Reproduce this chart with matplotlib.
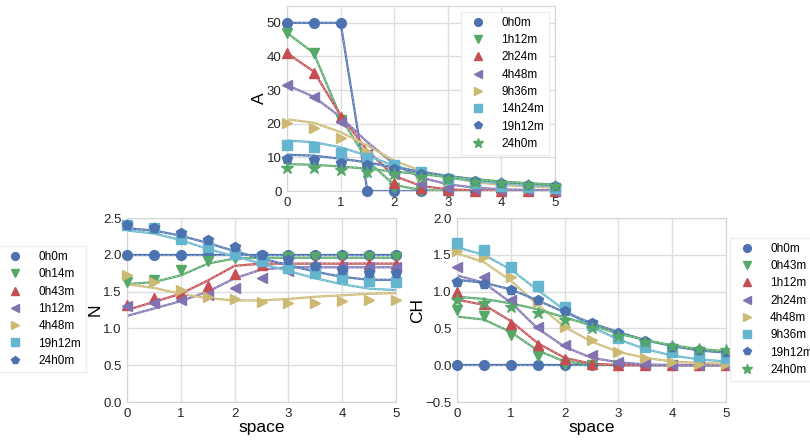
import matplotlib
matplotlib.use("Agg")
import matplotlib.pyplot as plt

plt.rcParams['font.family'] = ['Liberation Sans', 'DejaVu Sans']

space = [0, 0.5, 1, 1.5, 2, 2.5, 3, 3.5, 4, 4.5, 5]

colors = ["#4C72B0", "#55A868", "#C44E52", "#8172B2", "#CCB974", "#64B5CD",
          "#4C72B0", "#55A868"]
markers = ["o", "v", "^", "<", ">", "s", "p", "*"]

# --- A ---
a_labels = ["0h0m", "1h12m", "2h24m", "4h48m", "9h36m", "14h24m", "19h12m", "24h0m"]
a_data = [
    [50, 50, 50, 0, 0, 0, 0, 0, 0, 0, 0],
    [46.9, 41, 21, 5.7, 0.8, 0.1, 0, 0, 0, 0, 0],
    [41, 35, 22, 11, 2.3, 0.8, 0.2, 0.1, 0, 0, 0],
    [31.5, 28, 20.5, 11, 5, 2, 1, 0.5, 0.3, 0.2, 0.1],
    [20.1, 18.7, 15.8, 11.7, 7, 5, 3, 2, 1.5, 1, 1],
    [13.7, 13.2, 11.4, 9.7, 7.7, 5.5, 3.5, 2.5, 1.5, 1.2, 0.8],
    [9.4, 9.2, 8.4, 7.7, 6.5, 5, 4, 3, 2.3, 1.8, 1.5],
    [6.9, 6.7, 6.3, 5.6, 5, 4.2, 3.5, 2.8, 2.3, 1.9, 1.6],
]
a_model = [
    [50, 50, 50, 0, 0, 0, 0, 0, 0, 0, 0],
    [47, 41, 22, 9, 1.8, 0.3, 0, 0, 0, 0, 0],
    [41, 35.5, 22.5, 12, 4.5, 1.5, 0.5, 0.2, 0.1, 0, 0],
    [31.5, 28, 22, 14.5, 8, 4, 2, 1, 0.5, 0.3, 0.2],
    [21.3, 20.3, 17.5, 13.5, 9, 6, 4, 2.7, 1.8, 1.3, 1],
    [15, 14.5, 13, 10.5, 7.5, 5.5, 4, 3, 2.3, 1.8, 1.5],
    [10.8, 10.5, 9.6, 8.5, 7, 5.7, 4.5, 3.5, 2.7, 2.2, 1.8],
    [8, 7.8, 7.3, 6.6, 5.8, 5, 4.2, 3.5, 2.8, 2.3, 1.9],
]

# --- N ---
n_labels = ["0h0m", "0h14m", "0h43m", "1h12m", "4h48m", "19h12m", "24h0m"]
n_styles = [0, 1, 2, 3, 4, 5, 6]
n_data = [
    [2, 2, 2, 2, 2, 2, 2, 2, 2, 2, 2],
    [1.63, 1.66, 1.79, 1.91, 1.95, 1.97, 1.97, 1.97, 1.97, 1.97, 1.97],
    [1.32, 1.41, 1.48, 1.58, 1.74, 1.86, 1.88, 1.88, 1.88, 1.88, 1.88],
    [1.30, 1.34, 1.39, 1.45, 1.55, 1.68, 1.78, 1.83, 1.83, 1.83, 1.83],
    [1.73, 1.63, 1.52, 1.42, 1.40, 1.36, 1.35, 1.35, 1.37, 1.38, 1.39],
    [2.40, 2.36, 2.22, 2.11, 2.01, 1.91, 1.82, 1.75, 1.68, 1.65, 1.63],
    [2.40, 2.37, 2.29, 2.20, 2.11, 2.00, 1.93, 1.85, 1.79, 1.75, 1.75],
]
n_model = [
    [2, 2, 2, 2, 2, 2, 2, 2, 2, 2, 2],
    [1.6, 1.63, 1.72, 1.88, 1.95, 1.96, 1.96, 1.96, 1.96, 1.96, 1.96],
    [1.25, 1.36, 1.47, 1.65, 1.85, 1.88, 1.88, 1.88, 1.88, 1.88, 1.88],
    [1.17, 1.27, 1.37, 1.5, 1.68, 1.8, 1.83, 1.83, 1.83, 1.83, 1.83],
    [1.60, 1.55, 1.47, 1.41, 1.38, 1.38, 1.40, 1.43, 1.45, 1.47, 1.48],
    [2.33, 2.29, 2.20, 2.08, 1.98, 1.88, 1.78, 1.68, 1.60, 1.54, 1.52],
    [2.36, 2.33, 2.26, 2.16, 2.05, 1.95, 1.86, 1.77, 1.70, 1.66, 1.66],
]

# --- CH ---
ch_labels = ["0h0m", "0h43m", "1h12m", "2h24m", "4h48m", "9h36m", "19h12m", "24h0m"]
ch_data = [
    [0, 0, 0, 0, 0, 0, 0, 0, 0, 0, 0],
    [0.75, 0.67, 0.41, 0.12, 0.01, 0, 0, 0, 0, 0, 0],
    [0.99, 0.83, 0.56, 0.27, 0.09, 0.01, 0, 0, 0, 0, 0],
    [1.33, 1.20, 0.89, 0.52, 0.27, 0.14, 0.05, 0.02, 0, 0, 0],
    [1.55, 1.47, 1.20, 0.86, 0.52, 0.34, 0.18, 0.10, 0.05, 0.02, 0.01],
    [1.66, 1.56, 1.34, 1.07, 0.79, 0.55, 0.37, 0.25, 0.18, 0.12, 0.10],
    [1.13, 1.10, 1.02, 0.89, 0.73, 0.58, 0.44, 0.33, 0.25, 0.21, 0.18],
    [0.88, 0.85, 0.79, 0.71, 0.61, 0.50, 0.40, 0.32, 0.26, 0.22, 0.20],
]
ch_model = [
    [0, 0, 0, 0, 0, 0, 0, 0, 0, 0, 0],
    [0.66, 0.62, 0.45, 0.2, 0.05, 0.01, 0, 0, 0, 0, 0],
    [0.89, 0.82, 0.6, 0.3, 0.1, 0.02, 0, 0, 0, 0, 0],
    [1.22, 1.12, 0.85, 0.5, 0.25, 0.1, 0.04, 0.01, 0, 0, 0],
    [1.52, 1.40, 1.15, 0.82, 0.52, 0.32, 0.18, 0.10, 0.05, 0.03, 0.02],
    [1.60, 1.50, 1.30, 1.02, 0.75, 0.52, 0.35, 0.22, 0.13, 0.08, 0.05],
    [1.16, 1.12, 1.03, 0.88, 0.72, 0.57, 0.45, 0.34, 0.26, 0.20, 0.17],
    [0.93, 0.90, 0.84, 0.76, 0.65, 0.54, 0.43, 0.34, 0.27, 0.22, 0.19],
]


def style(ax):
    ax.set_facecolor("white")
    ax.grid(True, color="#dddddd", lw=1)
    ax.set_axisbelow(True)
    for s in ax.spines.values():
        s.set_color("#d5d5d5")
    ax.tick_params(length=0, labelsize=9.5, colors="#262626", pad=4)
    ax.set_xlim(0, 5)


def draw(ax, data, model, labels, idx):
    for k, (d, m, lab) in enumerate(zip(data, model, labels)):
        i = idx[k]
        c = colors[i]
        ax.plot(space, m, color=c, lw=1.6, zorder=2)
        ax.plot(space, m, color="white", lw=0.6, ls="--", alpha=0.45, zorder=2)
        ms = 9 if markers[i] == "*" else 7
        ax.plot(space, d, ls="none", marker=markers[i], color=c, ms=ms,
                label=lab, zorder=3, clip_on=False)


leg_kw = dict(numpoints=1, fontsize=8.5, frameon=True, framealpha=1,
              edgecolor="#eeeeee", fancybox=False, labelspacing=0.45,
              handletextpad=1.0, markerscale=0.8, borderpad=0.4,
              borderaxespad=0)

fig = plt.figure(figsize=(8.1, 4.4), dpi=100)

axA = fig.add_axes([287 / 810, 1 - 191 / 440, 268 / 810, 185 / 440])
style(axA)
draw(axA, a_data, a_model, a_labels, list(range(8)))
axA.set_ylim(0, 55)
axA.set_yticks([0, 10, 20, 30, 40, 50])
axA.set_ylabel("A", fontsize=12.5, labelpad=0)
axA.legend(loc="upper right", bbox_to_anchor=(549 / 810, 1 - 12 / 440),
           bbox_transform=fig.transFigure, **leg_kw)

axN = fig.add_axes([127 / 810, 1 - 402 / 440, 269 / 810, 184 / 440])
style(axN)
draw(axN, n_data, n_model, n_labels, n_styles)
axN.set_ylim(0, 2.5)
axN.set_ylabel("N", fontsize=12.5, labelpad=0)
axN.set_xlabel("space", fontsize=12.5, labelpad=0)
axN.legend(loc="center right", bbox_to_anchor=(86 / 810, 1 - 309 / 440),
           bbox_transform=fig.transFigure, **leg_kw)

axC = fig.add_axes([457 / 810, 1 - 402 / 440, 269 / 810, 184 / 440])
style(axC)
draw(axC, ch_data, ch_model, ch_labels, list(range(8)))
axC.set_ylim(-0.5, 2.0)
axC.set_ylabel("CH", fontsize=12.5, labelpad=0)
axC.set_xlabel("space", fontsize=12.5, labelpad=0)
axC.legend(loc="upper left", bbox_to_anchor=(730 / 810, 1 - 238 / 440),
           bbox_transform=fig.transFigure, **leg_kw)

fig.savefig("out.png", dpi=100)
